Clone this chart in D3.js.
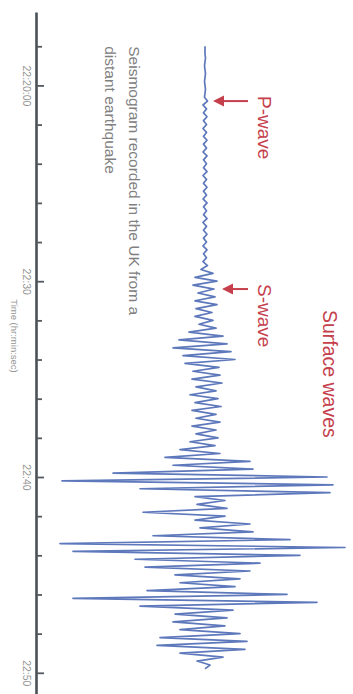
<!DOCTYPE html>
<html><head><meta charset="utf-8">
<script src="https://cdn.jsdelivr.net/npm/d3@7"></script>
<style>body{margin:0;background:#fff} svg{display:block}</style>
</head><body><svg id="c" width="353" height="694"></svg>
<script>
// ---- data ----
const startTime = "2000-01-01T22:18:00Z";
const stepSeconds = 12;
const amplitude = [
  0,0,0,0.5,0,-0.5,0,0.5,0,-0.5,0,0.5,0,-0.5,
  2.5,-2,1.5,-1.5,2,-1.5,1.5,-2,1.5,-1.5,
  2,-1.5,1.5,-2,2,-1.5,1.5,-1.5,2,-2,
  1.5,-1.5,2,-1.5,1.5,-2,2,-1.5,1.5,-1.5,
  2,-2,1.5,-1.5,2,-1.5,1.5,-2,2,-1.5,
  1.5,-2,2.5,
  -4,8,-10,12,-12,9,-7,10,-10,12,
  -9,7,-10,8,-6,11,-16,18,-26,22,
  -32,26,-22,30,-20,14,-12,15,-13,17,
  -9,11,-15,13,-10,16,-13,11,-9,15,
  -13,11,-9,13,-15,10,-25,15,-40,45,
  -32,48,-92,122,-143,128,-65,125,-10,20,
  -8,22,-62,20,-10,45,-5,48,-52,85,
  -145,140,-132,95,-70,55,-60,45,-30,35,
  -25,30,-58,82,-132,112,-65,28,-30,22,
  -32,20,-25,35,-45,42,-48,40,-25,18,
  -8,5,0
];
const axisStart = "2000-01-01T22:16:15Z";
const axisEnd = "2000-01-01T22:51:05Z";
const minorTickMinutes = [18,20,22,24,26,28,30,32,34,36,38,40,42,44,46,48,50];
const majorTicks = [20,30,40,50];
const tickLabels = ["22:20:00","22:30","22:40","22:50"];
const waveLabels = ["P-wave","S-wave"];
const waveTimes = ["2000-01-01T22:20:48Z","2000-01-01T22:30:24Z"];
const surfaceLabel = "Surface waves";
const surfaceTime = "2000-01-01T22:31:28Z";
const noteLines = ["Seismogram recorded in the UK from a","distant earthquake"];
const axisTitle = "Time (hr:min:sec)";

// ---- build ----
const W = 353, H = 694;
const svg = d3.select("#c");
const g = svg.append("g").attr("transform", `translate(${W},0) rotate(90)`);

const t0 = new Date(startTime);
const samples = amplitude.map((a, i) => ({t: new Date(t0.getTime() + i*stepSeconds*1000), a}));

const x = d3.scaleUtc().domain([new Date(axisStart), new Date(axisEnd)]).range([12, 694]);
const y = d3.scaleLinear().domain([-150, 150]).range([298, -2]);
const axisY = 316;

const minuteDate = m => new Date(Date.UTC(2000,0,1,22,m,0));

const axis = d3.axisBottom(x)
  .tickValues(minorTickMinutes.map(minuteDate))
  .tickSizeInner(-5).tickSizeOuter(0).tickPadding(7)
  .tickFormat(d => {
    const k = majorTicks.indexOf(d.getUTCMinutes());
    return k >= 0 ? tickLabels[k] : "";
  });
const ag = g.append("g").attr("transform", `translate(0,${axisY})`).call(axis);
ag.select(".domain").attr("stroke", "#4a5157").attr("stroke-width", 2.6);
ag.selectAll(".tick line").attr("stroke", "#555b61").attr("stroke-width", 1.8)
  .attr("y2", d => majorTicks.includes(d.getUTCMinutes()) ? -7 : -5);
ag.selectAll(".tick text").attr("fill", "#949494")
  .attr("font-family", "Liberation Sans, Arial, sans-serif").attr("font-size", 10.5);

g.append("text").attr("x", 336).attr("y", axisY + 26).attr("text-anchor", "middle")
  .attr("font-family", "Liberation Sans, Arial, sans-serif").attr("font-size", 9.5)
  .attr("fill", "#949494").text(axisTitle);

g.append("g").selectAll("text").data(noteLines).join("text")
  .attr("x", x(t0)).attr("y", (d, i) => 224 + i * 24)
  .attr("font-family", "Liberation Sans, Arial, sans-serif").attr("font-size", 15.5)
  .attr("fill", "#808080").text(d => d);

const line = d3.line().x(d => x(d.t)).y(d => y(d.a));
g.append("path").datum(samples).attr("d", line)
  .attr("fill", "none").attr("stroke", "#5e78bc").attr("stroke-width", 1.7)
  .attr("stroke-linejoin", "round");

const red = "#c5404c";
waveTimes.forEach((ts, i) => {
  const px = x(new Date(ts));
  const tail = 105, head = i === 0 ? 140 : 131;
  g.append("line").attr("x1", px).attr("x2", px).attr("y1", tail).attr("y2", head - 9)
    .attr("stroke", red).attr("stroke-width", 2);
  g.append("path").attr("d", `M${px},${head} L${px-5.5},${head-11} L${px+5.5},${head-11} Z`)
    .attr("fill", red);
  g.append("text").attr("x", px - 5).attr("y", 95)
    .attr("font-family", "Liberation Sans, Arial, sans-serif").attr("font-size", 19)
    .attr("fill", red).text(waveLabels[i]);
});
g.append("text").attr("x", x(new Date(surfaceTime))).attr("y", 30)
  .attr("font-family", "Liberation Sans, Arial, sans-serif").attr("font-size", 19.5)
  .attr("fill", red).text(surfaceLabel);
</script></body></html>
